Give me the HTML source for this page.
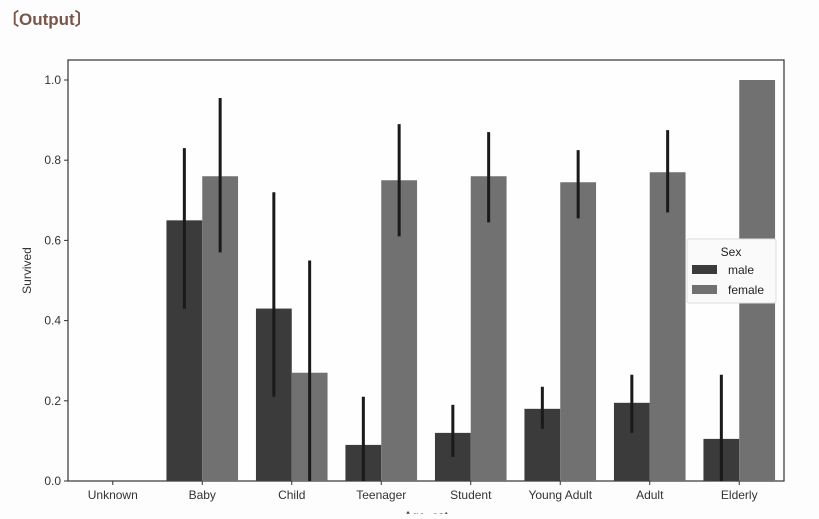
<!DOCTYPE html>
<html><head><meta charset="utf-8"><style>
body{margin:0;background:#fdfdfd;width:819px;height:514px;overflow:hidden;font-family:"Liberation Sans","DejaVu Sans",sans-serif}
</style></head><body>
<svg width="819" height="514" xmlns="http://www.w3.org/2000/svg">
<text x="2" y="25" font-size="17" font-weight="bold" fill="#7a5548">〔Output〕</text>
<g id="plot"></g>
</svg>
<script>
const categories=["Unknown","Baby","Child","Teenager","Student","Young Adult","Adult","Elderly"];
const maleValues=[0,0.65,0.43,0.09,0.12,0.18,0.195,0.105];
const femaleValues=[0,0.76,0.27,0.75,0.76,0.745,0.77,1.0];
const maleLow=[null,0.43,0.21,0,0.06,0.13,0.12,0];
const maleHigh=[null,0.83,0.72,0.21,0.19,0.235,0.265,0.265];
const femaleLow=[null,0.57,0,0.61,0.645,0.655,0.67,null];
const femaleHigh=[null,0.955,0.55,0.89,0.87,0.825,0.875,null];
const yTicks=[0,0.2,0.4,0.6,0.8,1.0];
const yTickLabels=["0.0","0.2","0.4","0.6","0.8","1.0"];

const L=68,R=784,T=60,B=481;
const y=v=>B-v*(B-80);
const band=(R-L)/categories.length;
const xc=i=>L+band*(i+0.5);
const bw=band*0.4;
const g=document.getElementById('plot');
const NS="http://www.w3.org/2000/svg";
function mk(tag,attrs,parent){const e=document.createElementNS(NS,tag);for(const k in attrs)e.setAttribute(k,attrs[k]);(parent||g).appendChild(e);return e;}
mk('rect',{x:L,y:T,width:R-L,height:B-T,fill:"#fefefe",stroke:"#333","stroke-width":1.2});
yTicks.forEach((t,i)=>{
  const tk=mk('line',{x1:L-4,x2:L,y1:y(t),y2:y(t),stroke:"#333"});
  
  
  const tx=mk('text',{x:L-7,y:y(t)+4,"text-anchor":"end","font-size":12,fill:"#333"});
  tx.textContent=yTickLabels[i];
  
  
});
categories.forEach((c,i)=>{
  const tk=mk('line',{x1:xc(i),x2:xc(i),y1:B,y2:B+4,stroke:"#333"});
  
  
  const tx=mk('text',{x:xc(i),y:B+18,"text-anchor":"middle","font-size":12,fill:"#333"});
  tx.textContent=c;
  
  
  const m=mk('rect',{x:xc(i)-bw,y:y(maleValues[i]),width:bw,height:B-y(maleValues[i]),fill:"#3b3b3b"});
  
  
  const f=mk('rect',{x:xc(i),y:y(femaleValues[i]),width:bw,height:B-y(femaleValues[i]),fill:"#717171"});
  
  
  if(maleLow[i]!==null){
    const e=mk('line',{x1:xc(i)-bw/2,x2:xc(i)-bw/2,y1:y(maleLow[i]),y2:y(maleHigh[i]),stroke:"#1a1a1a","stroke-width":3});
    
    
  }
  if(femaleLow[i]!==null){
    const e=mk('line',{x1:xc(i)+bw/2,x2:xc(i)+bw/2,y1:y(femaleLow[i]),y2:y(femaleHigh[i]),stroke:"#1a1a1a","stroke-width":3});
    
    
  }
});
const yl=mk('text',{x:0,y:0,transform:`translate(31,${(T+B)/2}) rotate(-90)`,"text-anchor":"middle","font-size":12,fill:"#333"});
yl.textContent="Survived";


const xl=mk('text',{x:(L+R)/2,y:520,"text-anchor":"middle","font-size":12,fill:"#333"});
xl.textContent="Age_cat";


const lg=mk('g',{});


mk('rect',{x:687,y:239,width:89,height:64,fill:"#fafafa",stroke:"#ddd",rx:2},lg);
const lt=mk('text',{x:731,y:256,"text-anchor":"middle","font-size":12,fill:"#222"},lg);lt.textContent="Sex";
[["male","#3b3b3b",270],["female","#717171",290]].forEach(([n,c,yy])=>{
  const s=mk('rect',{x:692,y:yy-5,width:25,height:9,fill:c},lg);
  
  
  const t=mk('text',{x:728,y:yy+4,"font-size":12,fill:"#222"},lg);
  t.textContent=n;
  
  
});
</script>
</body></html>
